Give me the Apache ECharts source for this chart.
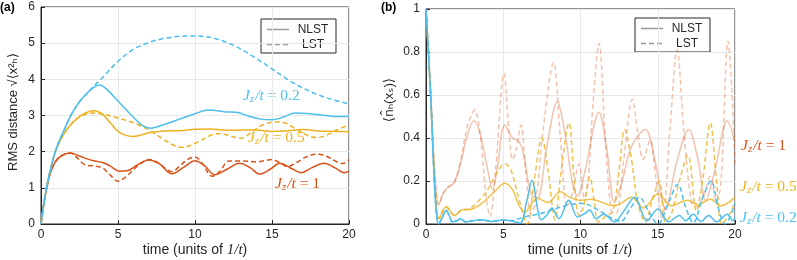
<!DOCTYPE html>
<html><head><meta charset="utf-8">
<script src="https://cdn.jsdelivr.net/npm/echarts@6/dist/echarts.min.js"></script>
<style>html,body{margin:0;padding:0;background:#fff}#c{width:797px;height:260px}</style>
</head><body><div id="c"></div>
<script>
// ---------- DATA (time, value) ----------
const xTicks = [0, 5, 10, 15, 20];
const yTicksLeft = [0, 1, 2, 3, 4, 5, 6];
const yTicksRight = [0, 0.2, 0.4, 0.6, 0.8, 1];
const legendNames = ['NLST', 'LST'];
const labelsLeft = ['0.2', '0.5', '1'];

// (a) RMS distance
const rmsJ02NLST = [[0,0],[0.2,0.6],[0.4,1.1],[0.7,1.65],[1.0,2.1],[1.5,2.6],[2.0,3.05],[2.5,3.38],[3.0,3.62],[3.5,3.8],[3.8,3.84],[4.2,3.75],[5,3.4],[6,2.95],[6.6,2.72],[7.1,2.65],[8,2.75],[9,2.9],[10,3.05],[10.9,3.15],[12,3.1],[12.8,3.08],[13.5,2.98],[14.3,2.9],[15,2.88],[15.7,2.95],[16.5,3.07],[17.5,3.05],[18.5,3.0],[19.3,2.97],[20,2.98]];
const rmsJ02LST = [[0,0],[0.2,0.6],[0.4,1.1],[0.7,1.65],[1.0,2.1],[1.5,2.6],[2.0,3.05],[2.5,3.38],[3.0,3.62],[3.4,3.8],[4,4.05],[5,4.5],[6,4.83],[7,5.02],[8,5.13],[9,5.19],[10,5.2],[11,5.16],[12,5.03],[13,4.83],[14,4.57],[15,4.29],[16,4.0],[17,3.76],[18,3.57],[19,3.43],[20,3.32]];
const rmsJ05NLST = [[0,0],[0.2,0.6],[0.4,1.1],[0.7,1.65],[1.0,2.08],[1.5,2.5],[2.0,2.78],[2.5,2.97],[3.0,3.09],[3.5,3.13],[4.0,3.03],[4.5,2.8],[5,2.56],[5.5,2.45],[6,2.42],[6.5,2.46],[7,2.52],[8,2.57],[9,2.58],[10,2.62],[11,2.63],[12,2.59],[13,2.6],[14,2.6],[15,2.56],[16,2.58],[17,2.61],[18,2.57],[19,2.56],[20,2.55]];
const rmsJ05LST = [[0,0],[0.2,0.6],[0.4,1.1],[0.7,1.65],[1.0,2.08],[1.5,2.5],[2.0,2.78],[2.5,2.96],[3.0,3.05],[3.5,3.07],[4,3.04],[5,2.93],[6,2.8],[7,2.6],[8,2.33],[8.7,2.16],[9.2,2.12],[10,2.23],[11,2.45],[11.6,2.5],[12.3,2.43],[13.0,2.37],[13.7,2.55],[14.4,2.74],[15.2,2.82],[15.8,2.8],[16.5,2.64],[17.2,2.47],[17.9,2.39],[18.5,2.45],[19.2,2.6],[20,2.74]];
const rmsJ1NLST = [[0,0],[0.2,0.6],[0.4,1.05],[0.6,1.4],[0.9,1.7],[1.3,1.88],[1.9,1.96],[2.5,1.88],[3,1.8],[3.5,1.74],[4,1.7],[4.5,1.6],[5.1,1.46],[5.6,1.47],[6.2,1.62],[7.0,1.77],[7.7,1.66],[8.5,1.39],[9.2,1.55],[10,1.75],[10.6,1.62],[11.3,1.36],[12.1,1.52],[12.9,1.68],[13.6,1.55],[14.2,1.38],[14.9,1.52],[15.5,1.68],[16.2,1.55],[16.9,1.42],[17.6,1.56],[18.4,1.68],[19.1,1.55],[19.7,1.42],[20,1.45]];
const rmsJ1LST = [[0,0],[0.2,0.6],[0.4,1.05],[0.6,1.4],[0.9,1.7],[1.3,1.88],[1.9,1.96],[2.3,1.85],[2.8,1.65],[3.5,1.6],[4,1.55],[4.5,1.35],[5,1.18],[5.5,1.3],[6,1.5],[6.5,1.68],[7,1.78],[7.5,1.72],[8,1.56],[8.5,1.45],[9,1.6],[9.5,1.78],[10,1.85],[10.5,1.66],[11.1,1.32],[11.6,1.45],[12.2,1.74],[13,1.74],[14,1.72],[15,1.78],[15.5,1.7],[16,1.59],[16.6,1.7],[17.2,1.85],[17.9,1.93],[18.6,1.86],[19.2,1.72],[19.6,1.67],[20,1.78]];

// (b) <n_h(x_s)>
const nJ1NLST = [[0,1],[0.3,0.62],[0.6,0.2],[0.82,0.09],[1.1,0.14],[1.4,0.17],[1.8,0.19],[2.2,0.27],[2.7,0.42],[3.1,0.48],[3.5,0.42],[4.0,0.25],[4.3,0.16],[4.6,0.25],[5.1,0.46],[5.6,0.4],[6.0,0.385],[6.3,0.33],[6.8,0.14],[7.2,0.12],[7.8,0.35],[8.5,0.57],[9.0,0.42],[9.5,0.18],[9.8,0.13],[10.3,0.25],[11.2,0.52],[11.7,0.35],[12.2,0.1],[12.7,0.2],[13.3,0.36],[14.2,0.44],[14.8,0.3],[15.5,0.07],[16.2,0.28],[17.0,0.44],[17.6,0.3],[18.1,0.11],[18.7,0.25],[19.5,0.48],[20,0.38]];
const nJ1LST = [[0,1],[0.3,0.62],[0.6,0.2],[0.82,0.09],[1.1,0.14],[1.4,0.17],[1.8,0.19],[2.2,0.28],[2.7,0.46],[3.15,0.53],[3.5,0.42],[3.9,0.12],[4.15,0.035],[4.5,0.25],[5.05,0.7],[5.35,0.45],[5.6,0.3],[5.85,0.35],[6.15,0.46],[6.45,0.25],[6.8,0.05],[7.1,0.1],[7.6,0.45],[8.25,0.75],[8.7,0.4],[9.15,0.08],[9.5,0.15],[9.9,0.28],[10.25,0.12],[10.5,0.2],[10.8,0.55],[11.2,0.84],[11.6,0.4],[12.0,0.06],[12.3,0.05],[12.8,0.3],[13.35,0.58],[13.75,0.4],[14.05,0.3],[14.5,0.39],[14.9,0.2],[15.3,0.02],[15.8,0.45],[16.25,0.81],[16.7,0.42],[17.2,0.1],[17.6,0.08],[18.0,0.14],[18.4,0.22],[18.8,0.1],[19.1,0.2],[19.55,0.85],[19.8,0.62],[20,0.28]];
const nJ05NLST = [[0,1],[0.3,0.6],[0.6,0.15],[0.85,0.025],[1.3,0.08],[1.85,0.04],[2.3,0.065],[3.0,0.07],[3.5,0.09],[4.0,0.12],[4.5,0.155],[5.1,0.19],[5.6,0.16],[6.0,0.09],[6.4,0.055],[6.8,0.09],[7.2,0.12],[7.9,0.1],[8.7,0.15],[9.3,0.125],[10.0,0.11],[10.7,0.115],[11.4,0.1],[12.1,0.085],[12.6,0.095],[13.3,0.125],[14.1,0.075],[15.0,0.14],[15.9,0.085],[16.9,0.11],[17.6,0.09],[18.4,0.115],[19.1,0.085],[20,0.125]];
const nJ05LST = [[0,1],[0.3,0.6],[0.6,0.15],[0.85,0.025],[1.3,0.08],[1.85,0.04],[2.3,0.065],[2.8,0.07],[3.3,0.1],[4.0,0.16],[4.6,0.24],[5.1,0.28],[5.5,0.25],[6.0,0.12],[6.55,0.0],[7.0,0.2],[7.5,0.4],[7.9,0.25],[8.35,0.02],[8.75,0.25],[9.25,0.47],[9.6,0.2],[9.9,0.04],[10.2,0.08],[10.6,0.22],[10.9,0.1],[11.15,0.01],[11.7,0.04],[12.1,0.06],[12.5,0.25],[12.85,0.44],[13.3,0.3],[13.7,0.1],[14.2,0.01],[14.6,0.1],[15.1,0.2],[15.5,0.01],[15.9,0.05],[16.4,0.2],[16.95,0.32],[17.5,0.06],[17.9,0.2],[18.4,0.47],[18.8,0.2],[19.15,0.0],[19.6,0.04],[20,0.1]];
const nJ02NLST = [[0,1],[0.3,0.6],[0.6,0.12],[0.82,0.0],[1.05,0.03],[1.3,0.064],[1.5,0.04],[1.7,0.01],[2.0,0.015],[2.25,0.025],[2.55,0.01],[3.0,0.015],[3.6,0.02],[4.2,0.012],[5.0,0.019],[5.5,0.015],[6.1,0.005],[6.5,0.1],[6.87,0.203],[7.2,0.08],[7.45,0.02],[7.8,0.04],[8.15,0.075],[8.6,0.025],[9.25,0.11],[9.8,0.033],[10.3,0.05],[10.6,0.065],[11.0,0.025],[11.5,0.045],[12.2,0.01],[12.8,0.06],[13.5,0.125],[14.3,0.015],[15.0,0.07],[15.7,0.01],[16.4,0.04],[16.8,0.015],[17.3,0.045],[17.8,0.012],[18.3,0.04],[18.8,0.01],[19.5,0.045],[19.85,0.015],[20,0.03]];
const nJ02LST = [[0,1],[0.3,0.6],[0.6,0.12],[0.82,0.0],[1.05,0.03],[1.3,0.064],[1.5,0.04],[1.7,0.01],[2.0,0.015],[2.25,0.025],[2.55,0.01],[3.0,0.015],[3.6,0.02],[4.2,0.012],[5.0,0.019],[5.5,0.015],[6.0,0.025],[6.5,0.035],[7.0,0.042],[7.5,0.05],[8.0,0.062],[8.5,0.074],[9.0,0.085],[9.5,0.092],[10.0,0.097],[10.5,0.09],[11.0,0.07],[11.5,0.05],[12.0,0.028],[12.6,0.012],[13.2,0.07],[13.8,0.125],[14.4,0.06],[15.0,0.0],[15.7,0.1],[16.3,0.185],[16.8,0.08],[17.3,0.005],[17.9,0.12],[18.45,0.2],[18.9,0.08],[19.35,0.0],[20,0.095]];

// ---------- STYLE ----------
const BLUE = '#4DBEEE', YEL = '#EDB120', RED = '#D95319', AX = '#262626';
const SANS = 'Liberation Sans, Arial, DejaVu Sans, sans-serif';
const SERIF = 'Liberation Serif, DejaVu Serif, serif';

function line(data, gi, color, dashed, opacity) {
  return {
    type: 'line', xAxisIndex: gi, yAxisIndex: gi, data: data,
    showSymbol: false, symbol: 'none', smooth: 0.35, silent: true,
    lineStyle: { width: 1.5, color: color, type: dashed ? [5, 3] : 'solid', opacity: opacity }
  };
}
function xAx(gi) {
  return {
    gridIndex: gi, type: 'value', min: xTicks[0], max: xTicks[xTicks.length - 1], interval: xTicks[1] - xTicks[0],
    axisLine: { lineStyle: { color: AX, width: 1 } },
    axisTick: { inside: true, length: 4, lineStyle: { color: AX } },
    axisLabel: { color: AX, fontSize: 12, fontFamily: SANS, margin: 5 },
    splitLine: { show: true, lineStyle: { color: '#e8e8e8', width: 1 } }
  };
}
function yAx(gi, ticks) {
  return {
    gridIndex: gi, type: 'value', min: ticks[0], max: ticks[ticks.length - 1], interval: ticks[1] - ticks[0],
    axisLine: { lineStyle: { color: AX, width: 1 } },
    axisTick: { inside: true, length: 4, lineStyle: { color: AX } },
    axisLabel: { color: AX, fontSize: 12, fontFamily: SANS, margin: 6 },
    splitLine: { show: true, lineStyle: { color: '#e8e8e8', width: 1 } }
  };
}
function xTitle(cx) {
  return { type: 'text', x: cx, y: 250, silent: true,
    style: { text: '{t|time (units of }{m|1/t}{t|)}', align: 'center', verticalAlign: 'middle',
      rich: { t: { fontFamily: SANS, fontSize: 14, fontWeight: 'normal', fill: AX },
              m: { fontFamily: SERIF, fontStyle: 'italic', fontWeight: 'normal', fontSize: 15, fill: AX } } } };
}
const mathRich = {
  i: { fontFamily: SERIF, fontStyle: 'italic', fontSize: 15.5 },
  s: { fontFamily: SERIF, fontStyle: 'italic', fontSize: 11, verticalAlign: 'bottom', padding: [7, 1, 0, 0] },
  n: { fontFamily: SERIF, fontSize: 15.5 }
};
function jLabel(x, y, val, color) {
  const rich = {};
  for (const k in mathRich) rich[k] = Object.assign({}, mathRich[k], { fill: color });
  return { type: 'text', x: x, y: y, silent: true,
    style: { text: '{i|J}{s|z}{i|/t}{n| = ' + val + '}', rich: rich, fill: color, verticalAlign: 'middle', align: 'left' } };
}
function legendBox(x, y) {
  return { type: 'group', x: x, y: y, silent: true, children: [
    { type: 'rect', shape: { x: 0, y: 0, width: 75, height: 34 }, style: { fill: '#fff', stroke: AX, lineWidth: 1 } },
    { type: 'line', shape: { x1: 6, y1: 10.5, x2: 28, y2: 10.5 }, style: { stroke: '#999', lineWidth: 1.5 } },
    { type: 'line', shape: { x1: 6, y1: 25.5, x2: 28, y2: 25.5 }, style: { stroke: '#999', lineWidth: 1.5, lineDash: [5, 3] } },
    { type: 'text', x: 52, y: 10.5, style: { text: legendNames[0], fill: AX, font: '12px ' + SANS, align: 'center', verticalAlign: 'middle' } },
    { type: 'text', x: 52, y: 25.5, style: { text: legendNames[1], fill: AX, font: '12px ' + SANS, align: 'center', verticalAlign: 'middle' } }
  ] };
}

const chart = echarts.init(document.getElementById('c'), null, { renderer: 'canvas' });
chart.setOption({
  animation: false,
  backgroundColor: '#fff',
  grid: [
    { left: 41, right: 448, top: 7, bottom: 36, show: true, borderColor: AX, borderWidth: 1, backgroundColor: 'transparent', containLabel: false },
    { left: 426, right: 62, top: 9, bottom: 36, show: true, borderColor: AX, borderWidth: 1, backgroundColor: 'transparent', containLabel: false }
  ],
  xAxis: [xAx(0), xAx(1)],
  yAxis: [yAx(0, yTicksLeft), yAx(1, yTicksRight)],
  series: [
    line(rmsJ1LST, 0, RED, true, 1),
    line(rmsJ1NLST, 0, RED, false, 1),
    line(rmsJ05LST, 0, YEL, true, 1),
    line(rmsJ05NLST, 0, YEL, false, 1),
    line(rmsJ02LST, 0, BLUE, true, 1),
    line(rmsJ02NLST, 0, BLUE, false, 1),
    line(nJ1LST, 1, RED, true, 0.35),
    line(nJ1NLST, 1, RED, false, 0.35),
    line(nJ05LST, 1, YEL, true, 0.8),
    line(nJ05NLST, 1, YEL, false, 0.8),
    line(nJ02LST, 1, BLUE, true, 1),
    line(nJ02NLST, 1, BLUE, false, 1)
  ],
  graphic: [
    { type: 'text', x: 0, y: 2, style: { text: '(a)', fill: '#000', font: 'bold 12px ' + SANS } },
    { type: 'text', x: 381, y: 2, style: { text: '(b)', fill: '#000', font: 'bold 12px ' + SANS } },
    { type: 'text', x: 13, y: 112, rotation: Math.PI / 2, style: { text: 'RMS distance \u221A\u27E8x\u00B2\u2095\u27E9', fill: AX, font: '13px ' + SANS, align: 'center', verticalAlign: 'middle' } },
    { type: 'text', x: 389, y: 100, rotation: Math.PI / 2, style: { text: '\u27E8n\u0302\u2095(x\u209B)\u27E9', fill: AX, font: '13.5px ' + SANS, align: 'center', verticalAlign: 'middle' } },
    xTitle(195),
    xTitle(580),
    legendBox(261, 19),
    legendBox(635, 18),
    jLabel(243, 96, labelsLeft[0], BLUE),
    jLabel(248, 138, labelsLeft[1], YEL),
    jLabel(275, 184, labelsLeft[2], RED),
    jLabel(741, 146, labelsLeft[2], RED),
    jLabel(740, 187, labelsLeft[1], YEL),
    jLabel(740, 218, labelsLeft[0], BLUE)
  ]
});
</script>
</body></html>
